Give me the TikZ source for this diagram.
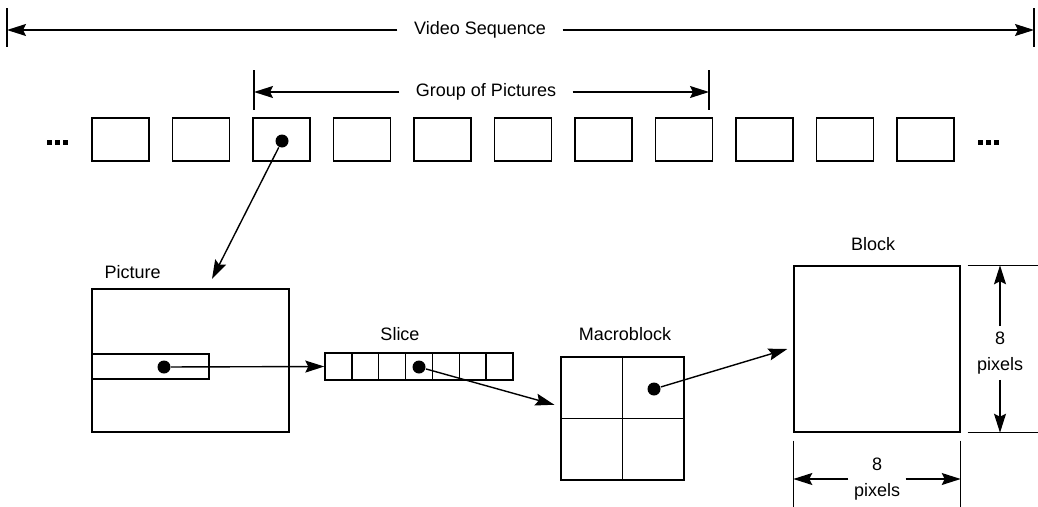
\documentclass[tikz,border=0pt]{standalone}
\usepackage{fontspec}
\setmainfont{Liberation Sans}
\usetikzlibrary{arrows.meta,positioning}

\begin{document}
\begin{tikzpicture}[x=1pt,y=-1pt,line width=1.4pt,>={Stealth[length=19pt,width=12pt,inset=3pt]},
        font=\fontsize{18}{26}\selectfont,
        frame/.style={draw,minimum width=57pt,minimum height=43pt,inner sep=0pt},
        cell/.style={draw,minimum width=26.86pt,minimum height=27pt,inner sep=0pt},
        quad/.style={draw,minimum size=61.5pt,inner sep=0pt},
        dot/.style={circle,fill,inner sep=0pt,minimum size=13pt},
        span/.style={inner xsep=16pt},
        dimtxt/.style={align=center,inner xsep=5pt,inner ysep=5pt}]
        \useasboundingbox (0,0) rectangle (1038,506);

        % sequence and group spans
        \coordinate (vsL) at (7,30);
        \coordinate (vsR) at (1034,30);
        \node[span] (vs) at (480,30) {Video Sequence};
        \draw (vsL) ++(0,-22) -- ++(0,39);
        \draw (vsR) ++(0,-22) -- ++(0,39);
        \draw[->] (vs) -- (vsL);
        \draw[->] (vs) -- (vsR);

        \coordinate (gopL) at (254,92);
        \coordinate (gopR) at (709,92);
        \node[span] (gop) at (486,92) {Group of Pictures};
        \draw (gopL) ++(0,-22) -- ++(0,40);
        \draw (gopR) ++(0,-22) -- ++(0,40);
        \draw[->] (gop) -- (gopL);
        \draw[->] (gop) -- (gopR);

        % row of pictures
        \foreach \i in {1,...,11}
            \node[frame] (f\i) at ({120.5+80.5*(\i-1)},139.5) {};
        \node (dotsL) at (57.5,142) {\rule{5pt}{5pt}\hspace{3pt}\rule{5pt}{5pt}\hspace{3pt}\rule{5pt}{5pt}};
        \node (dotsR) at (988.5,142) {\rule{5pt}{5pt}\hspace{3pt}\rule{5pt}{5pt}\hspace{3pt}\rule{5pt}{5pt}};
        \node[dot] (d1) at (282,141) {};

        % picture with one slice
        \node[anchor=base west,inner sep=0pt] (picl) at (104,278) {Picture};
        \node[draw,minimum width=197pt,minimum height=143pt,inner sep=0pt] (pic) at (190.5,360.5) {};
        \node[draw,minimum width=117pt,minimum height=25pt,inner sep=0pt] (strip) at (150.5,366.5) {};
        \node[dot] (d2) at (164,367) {};
        \coordinate (pin) at (212,279);

        % slice
        \node[anchor=base,inner sep=0pt] (slicel) at (400,340) {Slice};
        \foreach \i in {1,...,7}
            \node[cell] (s\i) at ({325+26.86*(\i-0.5)},366.5) {};
        \node[dot] (d3) at (419,367) {};

        % macroblock
        \node[anchor=base,inner sep=0pt] (mbl) at (625,340) {Macroblock};
        \node[quad] (mb1) at (591.75,387.75) {};
        \node[quad] (mb2) at (653.25,387.75) {};
        \node[quad] (mb3) at (591.75,449.25) {};
        \node[quad] (mb4) at (653.25,449.25) {};
        \node[dot] (d4) at (654,389) {};

        % block and its size
        \node[anchor=base,inner sep=0pt] (blkl) at (873,250) {Block};
        \node[draw,minimum size=166pt,inner sep=0pt] (blk) at (877,349) {};
        \draw ([xshift=7pt]blk.north east) -- ++(71,0);
        \draw ([xshift=7pt]blk.south east) -- ++(71,0);
        \draw ([yshift=-8pt]blk.south west) -- ++(0,66);
        \draw ([yshift=-8pt]blk.south east) -- ++(0,66);
        \node[dimtxt] (hv) at (1000,353) {8\\pixels};
        \draw[->] (hv) -- (hv |- blk.north);
        \draw[->] (hv) -- (hv |- blk.south);
        \node[dimtxt] (wv) at (877,479) {8\\pixels};
        \draw[->] (wv) -- (wv -| blk.west);
        \draw[->] (wv) -- (wv -| blk.east);

        % links between the levels
        \draw[->] (d1) -- (pin);
        \draw[->] (d2) -- (s1.west);
        \draw[->] (d3) -- ([xshift=-6pt,yshift=-17pt]mb1.west);
        \draw[->] (d4) -- ([xshift=-6pt]blk.west);
\end{tikzpicture}
\end{document}
